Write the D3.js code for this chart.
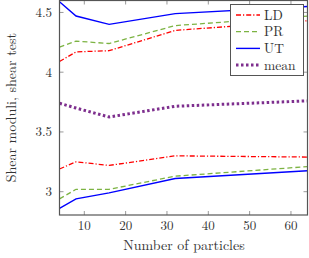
<!DOCTYPE html>
<html>
<head>
<meta charset="utf-8">
<script src="https://cdn.jsdelivr.net/npm/d3@7"></script>
<style>
 body { margin:0; background:#fff; }
 text { font-family: "Latin Modern Roman", "Liberation Serif", serif; fill:#333; }
</style>
</head>
<body>
<div class="chart"></div>
<script>
// particle counts on the x axis
var particles = [4, 8, 16, 32, 64];

// upper and lower curves per method, plus the mean
var ldHigh = [4.09, 4.17, 4.18, 4.35, 4.43];
var ldLow  = [3.19, 3.25, 3.22, 3.30, 3.29];
var prHigh = [4.21, 4.26, 4.24, 4.39, 4.47];
var prLow  = [2.94, 3.02, 3.02, 3.13, 3.21];
var utHigh = [4.59, 4.47, 4.40, 4.49, 4.55];
var utLow  = [2.86, 2.94, 2.99, 3.11, 3.175];
var meanVals = [3.74, 3.70, 3.625, 3.715, 3.76];

var xTicks = [10, 20, 30, 40, 50, 60];
var yTicks = [3, 3.5, 4, 4.5];
var legendNames = ["LD", "PR", "UT", "mean"];

var W = 309, H = 258;
var pLeft = 59.5, pRight = 307.5, pTop = 0.5, pBottom = 215;

var svg = d3.select(".chart").append("svg")
    .attr("width", W)
    .attr("height", H);

var x = d3.scaleLinear().domain([4, 64]).range([pLeft, pRight]);
var y = d3.scaleLinear().domain([2.805, 4.6]).range([pBottom, pTop]);

svg.append("clipPath").attr("id", "clip")
  .append("rect")
    .attr("x", pLeft).attr("y", pTop)
    .attr("width", pRight - pLeft).attr("height", pBottom - pTop);

// ticks, pgfplots style (inside, on all four sides)
var tickCol = "#999", tl = 4;
var g = svg.append("g");
xTicks.forEach(function(t) {
  g.append("line").attr("x1", x(t)).attr("x2", x(t)).attr("y1", pBottom).attr("y2", pBottom - tl).attr("stroke", tickCol);
  g.append("line").attr("x1", x(t)).attr("x2", x(t)).attr("y1", pTop).attr("y2", pTop + tl).attr("stroke", tickCol);
  g.append("text").attr("x", x(t)).attr("y", 230).attr("text-anchor", "middle")
    .attr("font-size", 13).text(t);
});
yTicks.forEach(function(t) {
  g.append("line").attr("x1", pLeft).attr("x2", pLeft + tl).attr("y1", y(t)).attr("y2", y(t)).attr("stroke", tickCol);
  g.append("line").attr("x1", pRight).attr("x2", pRight - tl).attr("y1", y(t)).attr("y2", y(t)).attr("stroke", tickCol);
  g.append("text").attr("x", 52).attr("y", y(t) + 4.5).attr("text-anchor", "end")
    .attr("font-size", 13).text(t);
});

var line = d3.line()
    .x(function(d, i) { return x(particles[i]); })
    .y(function(d) { return y(d); });

var styles = {
  LD:   { color: "#ff0000", dash: "5,2,1.2,2", width: 1.3 },
  PR:   { color: "#7cb342", dash: "5,3", width: 1.3 },
  UT:   { color: "#0000ff", dash: null, width: 1.4 },
  mean: { color: "#7e2f8e", dash: "2.5,2.5", width: 3 }
};

function drawLine(vals, name) {
  var s = styles[name];
  svg.append("path")
    .attr("d", line(vals))
    .attr("clip-path", "url(#clip)")
    .attr("fill", "none")
    .attr("stroke", s.color)
    .attr("stroke-width", s.width)
    .attr("stroke-dasharray", s.dash);
}

drawLine(ldHigh, "LD"); drawLine(ldLow, "LD");
drawLine(prHigh, "PR"); drawLine(prLow, "PR");
drawLine(utHigh, "UT"); drawLine(utLow, "UT");
drawLine(meanVals, "mean");

// frame
svg.append("rect")
  .attr("x", pLeft).attr("y", pTop)
  .attr("width", pRight - pLeft).attr("height", pBottom - pTop)
  .attr("fill", "none").attr("stroke", "#555").attr("stroke-width", 1.2);

// legend
var lg = svg.append("g");
lg.append("rect").attr("x", 230.5).attr("y", 4.5).attr("width", 73).attr("height", 71)
  .attr("fill", "#fff").attr("stroke", "#555").attr("stroke-width", 1);
legendNames.forEach(function(n, i) {
  var s = styles[n], ly = 15 + i * 16.7;
  lg.append("line").attr("x1", 236).attr("x2", 260).attr("y1", ly).attr("y2", ly)
    .attr("stroke", s.color).attr("stroke-width", s.width).attr("stroke-dasharray", s.dash);
  lg.append("text").attr("x", 264).attr("y", ly + 4.5).attr("font-size", 13.5).text(n);
});

// axis labels
svg.append("text").attr("x", 184).attr("y", 250).attr("text-anchor", "middle")
  .attr("font-size", 14).text("Number of particles");
svg.append("text")
  .attr("transform", "translate(16," + ((pTop + pBottom) / 2) + ") rotate(-90)")
  .attr("text-anchor", "middle").attr("font-size", 14)
  .text("Shear moduli, shear test");
</script>
</body>
</html>
